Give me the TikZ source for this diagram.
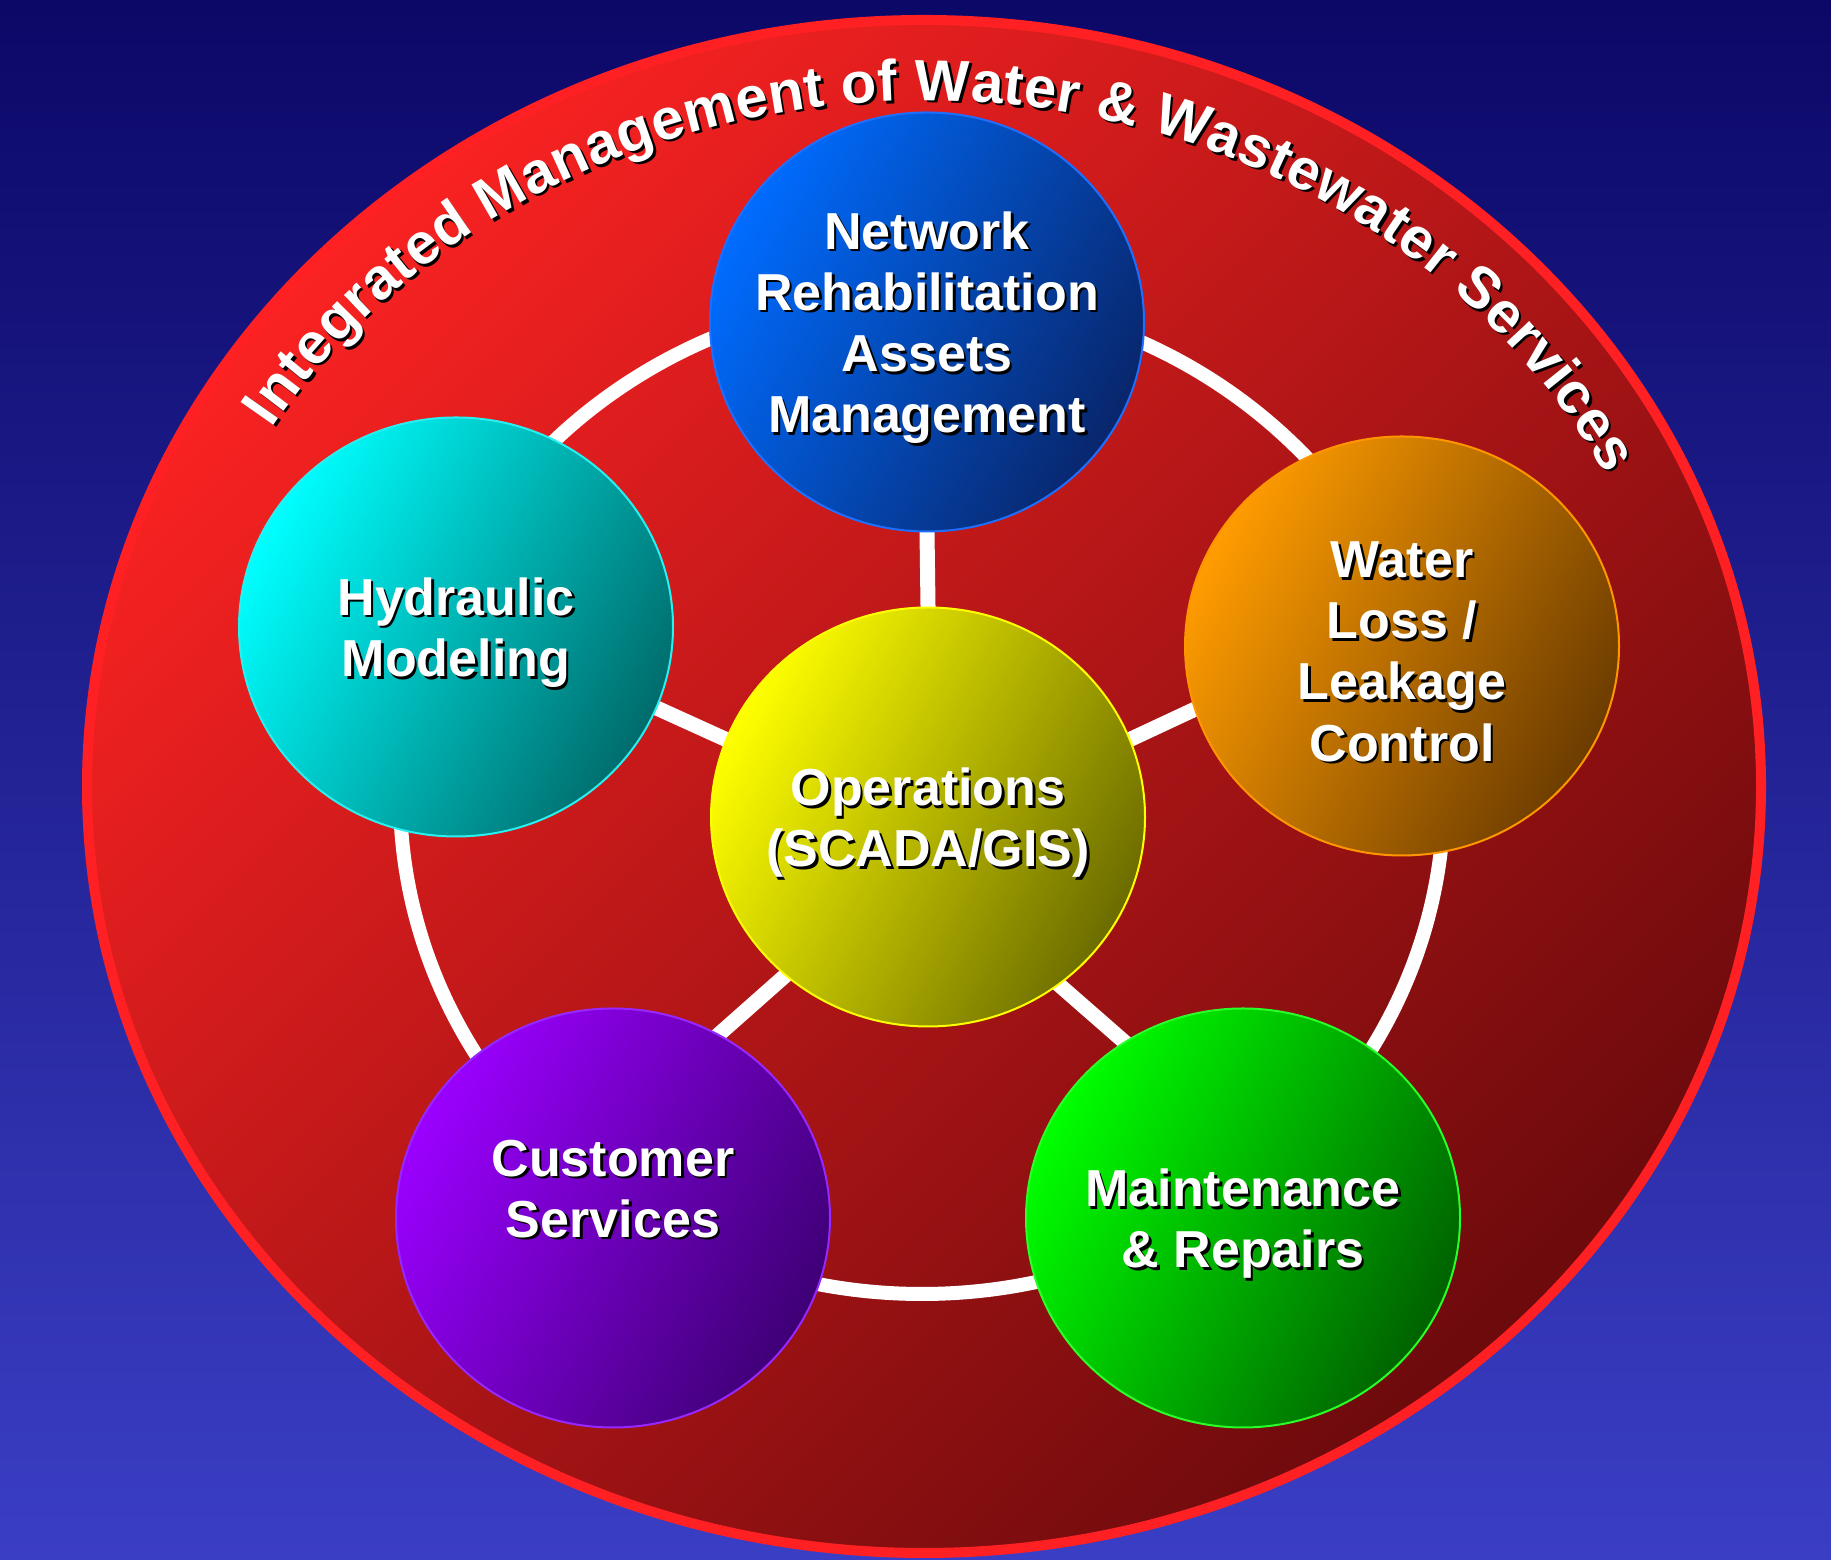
\documentclass[tikz,border=0pt]{standalone}
\usepackage{fontspec}
\setmainfont{Liberation Sans}
\usetikzlibrary{shapes.geometric,decorations.text,backgrounds}

\definecolor{bgtop}{RGB}{12,8,104}
\definecolor{bgbot}{RGB}{58,62,196}
\definecolor{redlight}{RGB}{250,34,34}
\definecolor{reddark}{RGB}{108,10,12}
\definecolor{redrim}{RGB}{255,32,36}
\definecolor{netlight}{RGB}{0,108,255}
\definecolor{netdark}{RGB}{8,38,108}
\definecolor{netrim}{RGB}{30,110,255}
\definecolor{hydlight}{RGB}{0,255,255}
\definecolor{hyddark}{RGB}{0,108,108}
\definecolor{hydrim}{RGB}{40,240,240}
\definecolor{watlight}{RGB}{255,156,0}
\definecolor{watdark}{RGB}{108,60,0}
\definecolor{watrim}{RGB}{255,150,0}
\definecolor{opslight}{RGB}{255,255,0}
\definecolor{opsdark}{RGB}{108,108,0}
\definecolor{opsrim}{RGB}{255,255,0}
\definecolor{custlight}{RGB}{155,0,255}
\definecolor{custdark}{RGB}{62,0,118}
\definecolor{custrim}{RGB}{150,40,255}
\definecolor{maintlight}{RGB}{0,255,0}
\definecolor{maintdark}{RGB}{0,98,0}
\definecolor{maintrim}{RGB}{40,255,40}

\newcommand\titlefont{\fontsize{16.5}{18}\selectfont\bfseries}
\newcommand\ballfont{\fontsize{14.8}{17.4}\selectfont\bfseries}
\newcommand\shadowed[1]{\rlap{\kern0.025cm\raisebox{-0.025cm}{\color{black}#1}}#1}

\tikzset{
  bigdisc/.style={ellipse, minimum width=16.74cm, minimum height=15.33cm, inner sep=0pt,
    line width=0.10cm, draw=redrim, top color=redlight, bottom color=reddark, shading angle=45},
  ball/.style={ellipse, minimum width=4.34cm, minimum height=4.19cm, inner sep=0pt,
    line width=0.02cm, draw=#1rim, top color=#1light, bottom color=#1dark, shading angle=62},
  balltext/.style={text=white, font=\ballfont, align=center, inner sep=0pt, yshift=-0.07cm},
  ringline/.style={draw=white, line width=0.14cm},
  spoke/.style={draw=white, line width=0.15cm, shorten <=-2pt, shorten >=-2pt},
  titlearc/.style={decorate, decoration={text along path, text align=fit to path,
    text={|\titlefont\color{#1}|Integrated Management of Water {\&} Wastewater Services}}}
}

\begin{document}
\begin{tikzpicture}
    \useasboundingbox (0,0) rectangle (18.310000,15.600000);%

    % Marking the six balls
    \node (net) at (9.270000,12.380000) [ball=net] {};%
    \node (hyd) at (4.560000,9.330000) [ball=hyd] {};%
    \node (wat) at (14.020000,9.140000) [ball=wat] {};%
    \node (ops) at (9.280000,7.430000) [ball=ops] {};%
    \node (cust) at (6.130000,3.420000) [ball=cust] {};%
    \node (maint) at (12.430000,3.420000) [ball=maint] {};%

    \begin{pgfonlayer}{background}
    % Drawing the backdrop
    \fill [top color=bgtop, bottom color=bgbot] (0,0) rectangle (18.310000,15.600000);%

    % Marking the big disc
    \node (disc) at (9.240000,7.735000) [bigdisc] {};%

    % Drawing the title along the rim
    \path [titlearc=black] ([shift={(0.025,-0.025)}]disc.center) ++(148.5:7.65 and 6.86)
        arc [start angle=148.5, end angle=27, x radius=7.65, y radius=6.86];%
    \path [titlearc=white] (disc.center) ++(148.5:7.65 and 6.86)
        arc [start angle=148.5, end angle=27, x radius=7.65, y radius=6.86];%

    % Drawing the ring
    \coordinate (hub) at (9.220000,7.650000);%
    \draw [ringline] (hub) ellipse [x radius=5.22, y radius=4.99];%

    % Drawing the spokes
    \draw [spoke] (ops.north) -- (net.south);%
    \draw [spoke] (ops.159) -- (hyd.338);%
    \draw [spoke] (ops.21) -- (wat.197);%
    \draw [spoke] (ops.228) -- (cust.60);%
    \draw [spoke] (ops.308) -- (maint.124);%
    \end{pgfonlayer}

    % Marking the texts
    \node (nettxt) at (net) [balltext] {\shadowed{Network}\\\shadowed{Rehabilitation}\\\shadowed{Assets}\\\shadowed{Management}};%
    \node (hydtxt) at (hyd) [balltext] {\shadowed{Hydraulic}\\\shadowed{Modeling}};%
    \node (wattxt) at (wat) [balltext] {\shadowed{Water}\\\shadowed{Loss /}\\\shadowed{Leakage}\\\shadowed{Control}};%
    \node (opstxt) at (ops) [balltext] {\shadowed{Operations}\\\shadowed{(SCADA/GIS)}};%
    \node (custtxt) at (cust) [balltext, yshift=0.35cm] {\shadowed{Customer}\\\shadowed{Services}};%
    \node (mainttxt) at (maint) [balltext] {\shadowed{Maintenance}\\\shadowed{\& Repairs}};%
\end{tikzpicture}
\end{document}
